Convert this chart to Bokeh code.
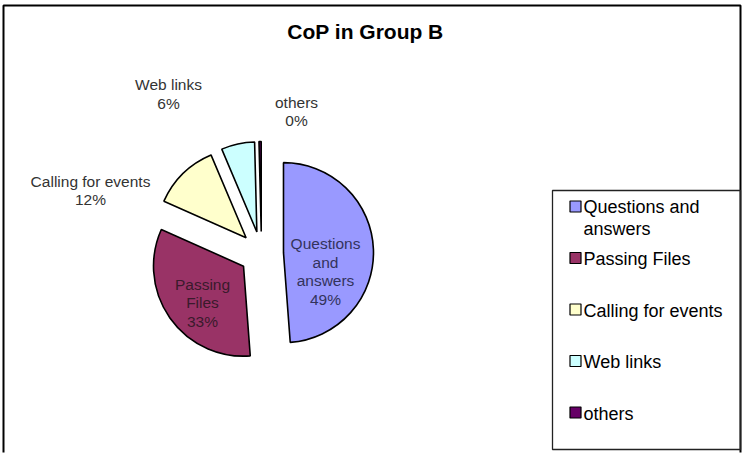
import numpy as np
from bokeh.plotting import figure
from bokeh.models import Range1d, ColumnDataSource
from bokeh.core.properties import value
from bokeh.embed import file_html
from bokeh.resources import INLINE

# ---------------- data ----------------
categories = ["Questions and answers", "Passing Files", "Calling for events", "Web links", "others"]
values = [49, 33, 12, 6, 0.4]
pct_labels = ["49%", "33%", "12%", "6%", "0%"]
colors = ["#9999FF", "#993366", "#FFFFCC", "#CCFFFF", "#660066"]
legend_labels = ["Questions and\nanswers", "Passing Files", "Calling for events", "Web links", "others"]
pie_names = ["Questions\nand\nanswers", "Passing\nFiles", "Calling for events", "Web links", "others"]
title_text = "CoP in Group B"

# ---------------- layout ----------------
W, H = 747, 462
FONT = "Liberation Sans"
cx, cy = 261, H - 253          # pie centre (pixels, y up)
R = 90                          # radius
EXPL = 22                       # explosion distance
label_pos = [(325, 271), (202, 302.5), (90, 190), (168, 93.5), (296, 111)]  # pixel (y down)
label_colors = ["#33335c", "#3a1a2c", "#333333", "#333333", "#333333"]

p = figure(width=W, height=H, x_range=Range1d(0, W), y_range=Range1d(0, H),
           output_backend="svg", toolbar_location=None, min_border=0,
           x_axis_location=None, y_axis_location=None, outline_line_color=None,
           background_fill_color="white", border_fill_color="white")
p.xgrid.visible = False
p.ygrid.visible = False

# ---------------- pie ----------------
vals = np.array(values, dtype=float)
frac = vals / vals.sum()
cum = np.cumsum(frac)
th_s = 360 * (cum - frac)          # clockwise from 12 o'clock
th_e = 360 * cum
th_m = (th_s + th_e) / 2
src = ColumnDataSource(dict(
    x=cx + EXPL * np.sin(np.radians(th_m)),
    y=cy + EXPL * np.cos(np.radians(th_m)),
    start=np.radians(90 - th_e),
    end=np.radians(90 - th_s),
    color=colors,
    name=categories,
))
p.wedge(x="x", y="y", radius=R, start_angle="start", end_angle="end",
        fill_color="color", line_color="black", line_width=1.6, source=src)

# data labels
lab_text = [f"{n}\n{pc}" for n, pc in zip(pie_names, pct_labels)]
p.text(x=[lp[0] for lp in label_pos], y=[H - lp[1] for lp in label_pos], text=lab_text,
       text_font=value(FONT), text_font_size="15.5px", text_color=label_colors,
       text_align="center", text_baseline="middle", text_line_height=1.08)

# ---------------- title ----------------
p.text(x=[365], y=[H - 31], text=[title_text], text_font=value(FONT),
       text_font_size="21px", text_font_style="bold", text_color="black",
       text_align="center", text_baseline="middle")

# ---------------- frame ----------------
p.line(x=[3, 3, 740, 740], y=[H - 452, H - 5, H - 5, H - 452], line_color="black", line_width=2)

# ---------------- legend ----------------
LX0, LX1, LY0, LY1 = 552, 740, 190, 449
p.quad(left=[LX0], right=[LX1], top=[H - LY0], bottom=[H - LY1],
       fill_color=None, line_color="#222222", line_width=1.3)
first_y = 207
step = 51.5
lh = 20.5
ent_y = np.array([first_y + i * step for i in range(len(categories))])
nlines = np.array([lbl.count("\n") + 1 for lbl in legend_labels])
p.rect(x=[575] * len(categories), y=H - (ent_y - 1), width=11, height=11,
       fill_color=colors, line_color="black", line_width=1.2)
p.text(x=[583] * len(categories), y=H - (ent_y + (nlines - 1) * lh / 2), text=legend_labels,
       text_font=value(FONT), text_font_size="18px", text_color="black",
       text_align="left", text_baseline="middle", text_line_height=1.1)

open("out.html", "w").write(file_html(p, INLINE))
